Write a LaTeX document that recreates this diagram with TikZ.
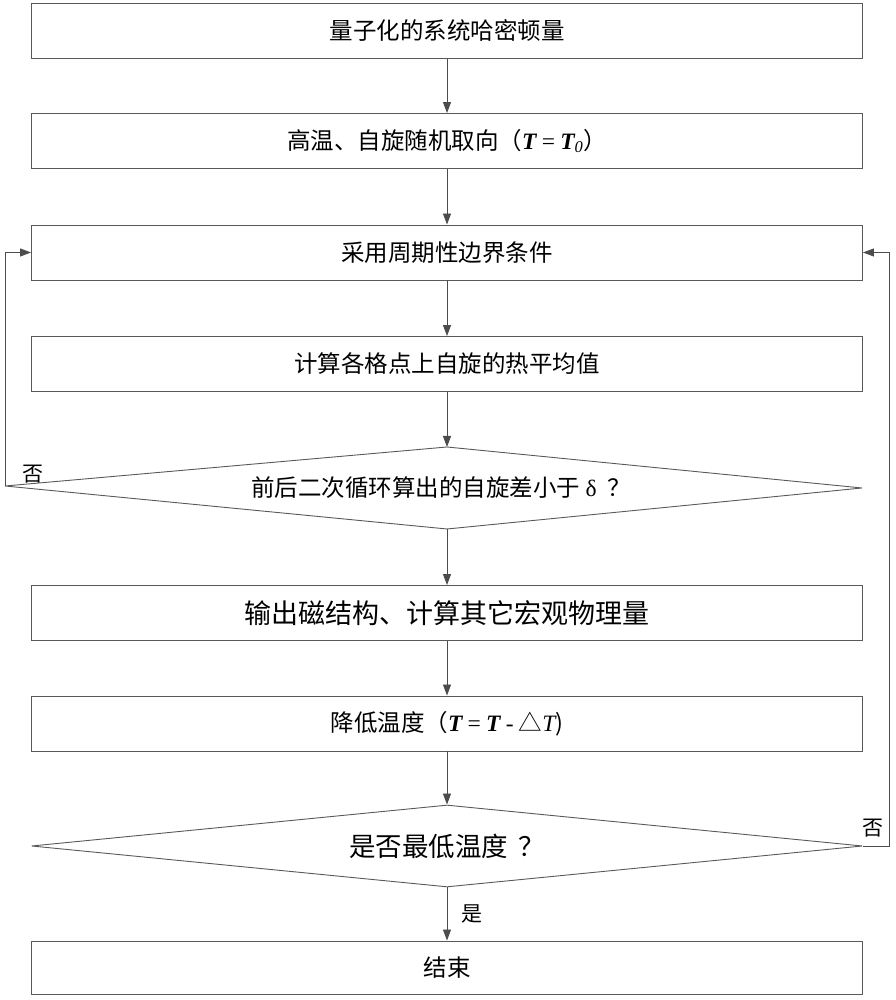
\documentclass[tikz,border=0pt]{standalone}
\usepackage{fontspec}
\setmainfont{Liberation Serif}
\newfontfamily\cjk{Noto Sans CJK SC}
\usetikzlibrary{arrows.meta,shapes.geometric}
\newcommand{\tT}{{\rmfamily\bfseries\itshape T}}

\begin{document}
\begin{tikzpicture}[x=1pt,y=1pt,->,>={Triangle[length=11pt,width=8pt]},
  line width=0.9pt,draw=black!70,
  main box/.style={rectangle,draw=black!65,minimum width=831,minimum height=55,
    inner sep=0,font=\cjk\fontsize{23.5}{27}\selectfont},
  test node/.style={diamond,draw=black!65,aspect=10,minimum width=831,minimum height=82,
    inner sep=0,font=\cjk\fontsize{26.5}{30}\selectfont},
  mark text/.style={font=\cjk\fontsize{21}{24}\selectfont,inner sep=0}]

  \useasboundingbox (0,0) rectangle (895,1000);

  \node[main box] (b1) at (447,969) {量子化的系统哈密顿量};
  \node[main box] (b2) at (447,859) {高温、自旋随机取向（\tT{} {\rmfamily=} \tT\textsubscript{\rmfamily\itshape 0}）};
  \node[main box] (b3) at (447,747.5) {采用周期性边界条件};
  \node[main box] (b4) at (447,636) {计算各格点上自旋的热平均值};

  \coordinate (d1t) at (447,553);
  \coordinate (d1r) at (862,512);
  \coordinate (d1b) at (447,471);
  \coordinate (d1l) at (5,514);
  \draw[-,draw=black!65] (d1t) -- (d1r) -- (d1b) -- (d1l) -- cycle;
  \node[font=\cjk\fontsize{23.5}{27}\selectfont] (d1) at (441,512) {前后二次循环算出的自旋差小于 {\rmfamily δ} \ ？};

  \node[main box,font=\cjk\fontsize{27}{31}\selectfont] (b5) at (447,387) {输出磁结构、计算其它宏观物理量};
  \node[main box] (b6) at (447,276.5) {降低温度（\tT{} {\rmfamily=} \tT{} {\rmfamily -} △{\rmfamily\itshape T})};
  \node[test node] (d2) at (447,154) {是否最低温度 \,？};
  \node[main box,minimum height=53] (b7) at (447,32.5) {结束};

  \node[mark text] (no1) at (33,526) {否};
  \node[mark text] (no2) at (873,172) {否};

  \path
    (b1) edge (b2)
    (b2) edge (b3)
    (b3) edge (b4)
    (b4) edge (d1t)
    (d1b) edge (b5)
    (b5) edge (b6)
    (b6) edge (d2)
    (d2) edge node[mark text,right=14pt] (yes) {是} (b7)
    ;

  \draw (d1l) |- (b3.west);
  \draw (d2.east) -- ++(26,0) |- (b3.east);

\end{tikzpicture}
\end{document}
